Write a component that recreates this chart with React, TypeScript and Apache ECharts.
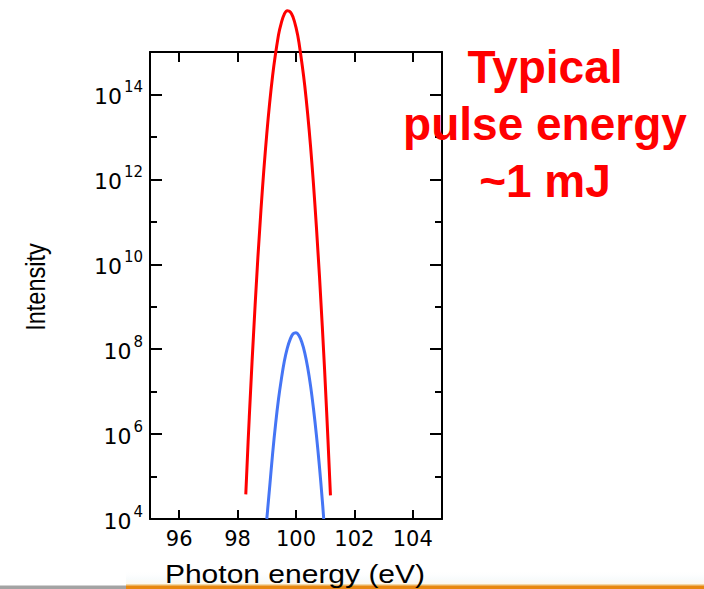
import React, { useEffect, useRef } from "react";
import * as echarts from "echarts";

// Photon energy (eV) sampled along each spectrum
const redEnergy = [98.28, 98.4, 98.6, 98.8, 99.0, 99.2, 99.4, 99.5, 99.6, 99.7, 99.8, 99.9, 100.0, 100.1, 100.3, 100.5, 100.7, 100.9, 101.05, 101.18];
const redIntensity = [3.8e4, 2.5e6, 1.1e9, 1.9e11, 1.2e13, 2.8e14, 2.5e15, 4.9e15, 7.8e15, 9.4e15, 8.9e15, 6.6e15, 3.8e15, 1.7e15, 1.6e14, 5.8e12, 7.4e10, 3.5e8, 3.3e6, 3.6e4];

const blueEnergy = [99.0, 99.1, 99.2, 99.3, 99.4, 99.5, 99.6, 99.7, 99.8, 99.9, 100.0, 100.1, 100.2, 100.3, 100.4, 100.5, 100.6, 100.7, 100.8, 100.9, 100.95];
const blueIntensity = [1e4, 5.9e4, 3.5e5, 1.7e6, 6.6e6, 2e7, 5.2e7, 1.05e8, 1.7e8, 2.3e8, 2.45e8, 2.1e8, 1.45e8, 8.2e7, 3.7e7, 1.35e7, 3.9e6, 9.3e5, 1.8e5, 2.8e4, 1e4];

// Axis ranges
const energyRange = [95, 105];
const intensityRange = [1e4, 1e15];
const decadeRange = [4, 15];

const annotationLines = ["Typical", "pulse energy", "~1 mJ"];

const pair = (xs: number[], ys: number[]) => xs.map((x, i) => [x, ys[i]]);

const frameLine = { show: true, lineStyle: { color: "#000", width: 2 } };
const tickStyle = { color: "#000", width: 2 };
const labelFont = "DejaVu Sans";

export default function App() {
  const ref = useRef<HTMLDivElement>(null);

  useEffect(() => {
    if (!ref.current) return;
    const chart = echarts.init(ref.current, null, { renderer: "svg" });

    const decadeLabel = (v: number) => {
      const e = Math.round(Math.log10(v));
      return `{b|10}{s|${e}}`;
    };

    chart.setOption({
      animation: false,
      backgroundColor: "#ffffff",
      grid: { left: 150, right: 262, top: 52, bottom: 70, containLabel: false },
      xAxis: [
        {
          type: "value",
          position: "bottom",
          min: energyRange[0],
          max: energyRange[1],
          splitNumber: 5,
          axisLine: frameLine,
          axisTick: { show: true, inside: true, length: 9, lineStyle: tickStyle },
          splitLine: { show: false },
          axisLabel: {
            showMinLabel: false,
            showMaxLabel: false,
            margin: 9,
            color: "#000",
            fontSize: 21,
            fontFamily: labelFont,
          },
        },
        {
          type: "value",
          position: "top",
          min: energyRange[0],
          max: energyRange[1],
          splitNumber: 5,
          axisLine: frameLine,
          axisTick: { show: true, inside: true, length: 10, lineStyle: tickStyle },
          splitLine: { show: false },
          axisLabel: { show: false },
        },
      ],
      yAxis: [
        {
          type: "log",
          logBase: 100,
          position: "left",
          min: intensityRange[0],
          max: intensityRange[1],
          axisLine: frameLine,
          axisTick: { show: true, inside: true, length: 12, lineStyle: tickStyle },
          splitLine: { show: false },
          axisLabel: {
            showMaxLabel: false,
            margin: 7,
            formatter: decadeLabel,
            rich: {
              b: { fontSize: 22, fontFamily: labelFont, color: "#000", lineHeight: 30, verticalAlign: "bottom", padding: [0, 0, 2, 0] },
              s: { fontSize: 15, fontFamily: labelFont, color: "#000", lineHeight: 14, verticalAlign: "top", padding: [0, 0, 0, 2] },
            },
          },
        },
        {
          // odd decades: short ticks only
          type: "value",
          position: "left",
          min: decadeRange[0],
          max: decadeRange[1],
          interval: 1,
          axisLine: { show: false },
          axisTick: { show: true, inside: true, length: 7, lineStyle: tickStyle },
          splitLine: { show: false },
          axisLabel: { show: false },
        },
        {
          type: "log",
          logBase: 100,
          position: "right",
          min: intensityRange[0],
          max: intensityRange[1],
          axisLine: frameLine,
          axisTick: { show: true, inside: true, length: 12, lineStyle: tickStyle },
          splitLine: { show: false },
          axisLabel: { show: false },
        },
        {
          type: "value",
          position: "right",
          min: decadeRange[0],
          max: decadeRange[1],
          interval: 1,
          axisLine: { show: false },
          axisTick: { show: true, inside: true, length: 7, lineStyle: tickStyle },
          splitLine: { show: false },
          axisLabel: { show: false },
        },
      ],
      series: [
        {
          type: "line",
          xAxisIndex: 0,
          yAxisIndex: 0,
          data: pair(redEnergy, redIntensity),
          showSymbol: false,
          smooth: 0.4,
          clip: false,
          lineStyle: { color: "#ff0000", width: 3 },
          z: 4,
        },
        {
          type: "line",
          xAxisIndex: 0,
          yAxisIndex: 0,
          data: pair(blueEnergy, blueIntensity),
          showSymbol: false,
          smooth: 0.4,
          clip: true,
          lineStyle: { color: "#4575f5", width: 3 },
          z: 4,
        },
      ],
      graphic: [
        {
          type: "text",
          x: 35,
          y: 287,
          rotation: Math.PI / 2,
          scaleX: 0.84,
          style: {
            text: "Intensity",
            fontFamily: "Liberation Sans",
            fontSize: 28,
            fill: "#000",
            align: "center",
            verticalAlign: "middle",
          },
        },
        {
          type: "rect",
          z: 1,
          shape: { x: 126, y: 570, width: 578, height: 15 },
          style: {
            fill: new echarts.graphic.LinearGradient(0, 0, 0, 1, [
              { offset: 0, color: "rgba(255,255,255,0)" },
              { offset: 0.6, color: "#f8fbfc" },
              { offset: 1, color: "#fdf7ea" },
            ]),
          },
        },
        { type: "rect", z: 6, shape: { x: 126, y: 584, width: 578, height: 2 }, style: { fill: "#f3d7a4" } },
        { type: "rect", z: 6, shape: { x: 126, y: 585.5, width: 578, height: 4 }, style: { fill: "#e8870e" } },
        { type: "rect", z: 6, shape: { x: 0, y: 585.5, width: 126, height: 4 }, style: { fill: "#a3a3a3" } },
        {
          type: "text",
          x: 295,
          y: 574,
          scaleX: 1.2,
          z: 8,
          style: {
            text: "Photon energy (eV)",
            fontFamily: "Liberation Sans",
            fontSize: 25,
            fill: "#000",
            align: "center",
            verticalAlign: "middle",
          },
        },
        ...annotationLines.map((t, i) => ({
          type: "text",
          x: 545,
          y: [67, 124, 181][i],
          z: 10,
          style: {
            text: t,
            fontFamily: "Liberation Sans",
            fontWeight: "bold",
            fontSize: 46,
            fill: "#ff0000",
            align: "center",
            verticalAlign: "middle",
          },
        })),
      ],
    });

    return () => chart.dispose();
  }, []);

  return (
    <div
      ref={ref}
      style={{ position: "fixed", left: 0, top: 0, width: 704, height: 589, background: "#fff" }}
    />
  );
}
